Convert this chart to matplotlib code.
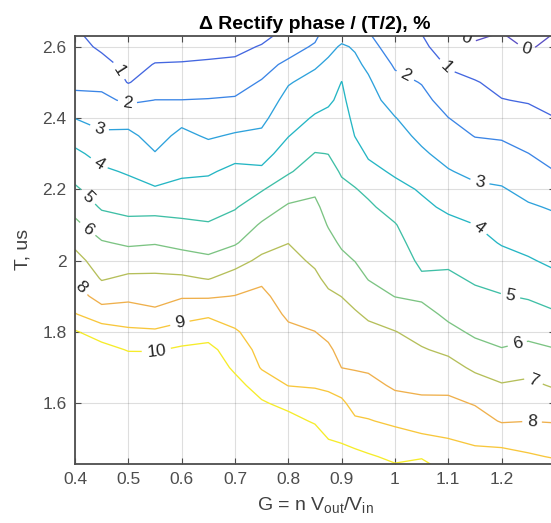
import numpy as np
import matplotlib.pyplot as plt

plt.rcParams['font.family'] = ['Liberation Sans', 'DejaVu Sans']
plt.rcParams['mathtext.fontset'] = 'custom'
plt.rcParams['mathtext.rm'] = 'Liberation Sans'

# grid
g_vals = [0.40, 0.45, 0.50, 0.55, 0.60, 0.65, 0.70, 0.75, 0.80, 0.85, 0.875,
          0.90, 0.925, 0.95, 1.00, 1.05, 1.10, 1.15, 1.20, 1.25, 1.30]
t_vals = [2.65, 2.60, 2.55, 2.50, 2.45, 2.40, 2.35, 2.30, 2.25, 2.20, 2.15, 2.10, 2.05,
          2.00, 1.95, 1.90, 1.85, 1.80, 1.75, 1.70, 1.65, 1.60, 1.55, 1.50, 1.45, 1.40]
levels = [0, 1, 2, 3, 4, 5, 6, 7, 8, 9, 10]

# rectify phase, % -- one list per G column, T from top to bottom
phase_cols = [
    [1.05, 1.31, 1.56, 1.82, 2.22, 2.98, 3.62, 4.19, 4.65, 5.13, 5.67, 6.22, 6.79, 7.35, 7.89, 8.45, 9.04, 10.1, 10.8, 11.3, 11.7, 12.0, 12.2, 12.4, 12.6, 12.8],
    [0.6, 0.85, 1.28, 1.75, 2.22, 2.68, 3.16, 3.68, 4.15, 4.53, 4.90, 5.47, 6.08, 6.50, 6.92, 7.60, 8.47, 9.46, 10.4, 11.0, 11.5, 11.9, 12.2, 12.4, 12.6, 12.8],
    [0.5, 0.6, 0.75, 0.95, 1.83, 2.65, 3.2, 3.56, 3.91, 4.32, 4.74, 5.24, 5.86, 6.52, 7.17, 7.78, 8.46, 9.18, 9.93, 10.7, 11.2, 11.6, 12.0, 12.2, 12.4, 12.6],
    [0.5, 0.7, 1.03, 1.51, 2.01, 2.34, 2.68, 3.04, 3.56, 4.09, 4.70, 5.32, 5.94, 6.58, 7.17, 7.64, 8.23, 9.15, 9.92, 10.7, 11.2, 11.6, 12.0, 12.2, 12.4, 12.6],
    [0.5, 0.72, 1.05, 1.52, 2.01, 2.75, 3.21, 3.53, 3.85, 4.24, 4.69, 5.18, 5.74, 6.40, 7.15, 7.91, 8.65, 9.38, 10.16, 10.8, 11.3, 11.7, 12.0, 12.2, 12.4, 12.6],
    [0.5, 0.75, 1.10, 1.57, 2.04, 2.47, 2.90, 3.39, 3.90, 4.30, 4.68, 5.07, 5.61, 6.20, 6.95, 7.89, 8.86, 9.55, 10.3, 10.8, 11.1, 11.5, 11.8, 12.0, 12.2, 12.4],
    [0.55, 0.78, 1.17, 1.63, 2.10, 2.58, 3.09, 3.74, 4.21, 4.57, 4.93, 5.4, 5.9, 6.65, 7.37, 8.03, 8.60, 9.10, 9.45, 9.79, 10.4, 10.9, 11.3, 11.6, 11.9, 12.1],
    [0.6, 1.06, 1.60, 2.08, 2.43, 2.78, 3.17, 3.64, 4.18, 4.93, 5.53, 6.11, 6.63, 7.2, 7.87, 8.16, 8.35, 8.55, 8.75, 8.94, 9.45, 10.14, 10.6, 11.0, 11.3, 11.6],
    [1.1, 1.5, 2.24, 2.93, 3.30, 3.63, 3.97, 4.43, 4.90, 5.52, 6.12, 6.56, 6.99, 7.22, 7.44, 7.67, 7.89, 8.14, 8.42, 8.70, 8.98, 9.63, 10.44, 10.9, 11.2, 11.5],
    [1.5, 2.15, 2.88, 3.32, 3.70, 4.09, 4.56, 5.03, 5.45, 5.87, 6.17, 6.40, 6.64, 6.88, 7.14, 7.43, 7.71, 8.01, 8.31, 8.62, 8.93, 9.37, 9.85, 10.7, 11.1, 11.4],
    [2.4, 2.75, 3.17, 3.52, 3.86, 4.23, 4.62, 4.99, 5.24, 5.48, 5.71, 5.95, 6.24, 6.47, 6.82, 7.13, 7.47, 7.8, 8.14, 8.51, 8.87, 9.24, 9.62, 9.99, 10.5, 10.9],
    [2.5, 3.1, 3.58, 4.02, 4.2, 4.38, 4.56, 4.75, 4.93, 5.15, 5.39, 5.63, 5.88, 6.2, 6.6, 6.99, 7.24, 7.49, 7.74, 7.99, 8.64, 9.15, 9.49, 9.83, 10.5, 10.9],
    [2.7, 2.92, 3.17, 3.37, 3.57, 3.78, 3.98, 4.33, 4.69, 5.04, 5.27, 5.51, 5.74, 5.98, 6.35, 6.73, 7.09, 7.37, 7.66, 7.94, 8.31, 8.70, 9.12, 9.63, 10.3, 10.7],
    [1.95, 2.37, 2.84, 3.13, 3.32, 3.51, 3.70, 3.89, 4.24, 4.82, 5.14, 5.35, 5.55, 5.76, 5.96, 6.38, 6.86, 7.23, 7.56, 7.88, 8.25, 8.65, 9.05, 9.55, 10.1, 10.6],
    [1.08, 1.48, 1.88, 2.27, 2.65, 3.03, 3.31, 3.59, 3.88, 4.24, 4.66, 5.05, 5.28, 5.51, 5.74, 5.98, 6.51, 7.03, 7.31, 7.60, 7.88, 8.30, 8.84, 9.34, 9.83, 10.3],
    [0.9, 1.25, 1.61, 1.96, 2.25, 2.53, 2.81, 3.13, 3.52, 3.92, 4.17, 4.39, 4.60, 4.82, 5.12, 5.85, 6.31, 6.69, 7.07, 7.43, 7.79, 8.18, 8.64, 9.15, 9.92, 10.6],
    [-0.1, 0.37, 0.89, 1.29, 1.64, 2.01, 2.35, 2.70, 3.06, 3.46, 3.86, 4.21, 4.52, 4.84, 5.16, 5.48, 5.81, 6.24, 6.82, 7.31, 7.76, 8.19, 8.59, 9.01, 9.5, 9.99],
    [-0.3, 0.14, 0.62, 1.06, 1.36, 1.67, 1.97, 2.37, 2.77, 3.18, 3.59, 4.01, 4.29, 4.59, 4.88, 5.20, 5.52, 5.85, 6.29, 6.84, 7.39, 7.94, 8.38, 8.81, 9.3, 9.8],
    [-0.05, 0.21, 0.48, 0.75, 1.03, 1.46, 1.90, 2.30, 2.70, 3.07, 3.36, 3.65, 3.94, 4.30, 4.68, 5.05, 5.38, 5.70, 6.04, 6.56, 7.07, 7.5, 7.93, 8.68, 9.33, 9.89],
    [-0.4, -0.07, 0.27, 0.6, 0.93, 1.29, 1.64, 2.01, 2.37, 2.74, 3.10, 3.42, 3.74, 4.08, 4.5, 4.92, 5.34, 5.76, 6.22, 6.72, 7.18, 7.59, 7.99, 8.56, 9.12, 9.75],
    [-0.04, 0.17, 0.375, 0.58, 0.79, 1.01, 1.33, 1.67, 2.01, 2.45, 2.91, 3.24, 3.53, 3.82, 4.18, 4.64, 5.10, 5.57, 6.04, 6.48, 6.91, 7.42, 7.95, 8.44, 8.93, 9.59],
]

# where the inline labels sit
label_pos = [(1.133, 2.618), (1.245, 2.59),
             (0.48, 2.53), (1.094, 2.54),
             (0.497, 2.435), (1.019, 2.518),
             (0.441, 2.352), (1.159, 2.22),
             (0.443, 2.268), (1.159, 2.095),
             (0.419, 2.17), (1.216, 1.897),
             (0.422, 2.085), (1.229, 1.769),
             (1.259, 1.66),
             (0.409, 1.923), (1.257, 1.547),
             (0.597, 1.822),
             (0.554, 1.735)]

# parula-like line colours, one per level
level_colors = ['#5a4fc4', '#4467e0', '#3b85e6', '#2ea2dc', '#25b6c4', '#3fbfa6',
                '#7cc483', '#b5bf5a', '#efb04c', '#f8c73c', '#f6ec2a']

G, T = np.meshgrid(g_vals, t_vals)
Z = np.array(phase_cols).T

fig = plt.figure(figsize=(5.51, 5.23), dpi=100)
ax = fig.add_axes([0.1361, 0.1132, 0.8711, 0.818])

cs = ax.contour(G, T, Z, levels=levels, colors=level_colors, linewidths=0.95)
ax.clabel(cs, manual=label_pos, inline=True, fmt='%d', fontsize=12.5, colors='#262626')

ax.set_xlim(0.4, 1.3)
ax.set_ylim(1.43, 2.63)
ax.set_xticks([0.4, 0.5, 0.6, 0.7, 0.8, 0.9, 1.0, 1.1, 1.2])
ax.set_xticklabels(['0.4', '0.5', '0.6', '0.7', '0.8', '0.9', '1', '1.1', '1.2'])
ax.set_yticks([1.6, 1.8, 2.0, 2.2, 2.4, 2.6])
ax.set_yticklabels(['1.6', '1.8', '2', '2.2', '2.4', '2.6'])
ax.grid(True, color='#262626', alpha=0.15, linewidth=0.8)
ax.set_axisbelow(True)
ax.tick_params(direction='in', length=4, width=0.8, top=True, right=True,
               labelsize=12.5, colors='#4d4d4d', pad=6)
for s in ax.spines.values():
    s.set_color('#4d4d4d')
    s.set_linewidth(1.3)

ax.set_title('\u0394 Rectify phase / (T/2), %', fontsize=14, fontweight='bold', pad=5)
ax.set_xlabel(r'G = n V$_{\mathrm{out}}$/V$_{\mathrm{in}}$', fontsize=14, color='#404040', labelpad=6)
ax.set_ylabel('T, us', fontsize=14, color='#404040', labelpad=8)

fig.savefig('out.png', dpi=100)
